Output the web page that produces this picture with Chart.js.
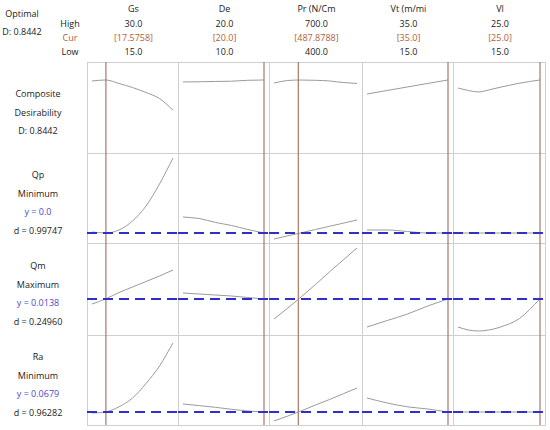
<!DOCTYPE html>
<html lang="en">
<head>
  <meta charset="UTF-8">
  <title>Response Optimizer</title>
  <script src="https://cdn.jsdelivr.net/npm/chart.js"></script>
  <style>
    body { margin: 0; background: #fff; font-family: "Open Sans", sans-serif; font-size: 9px; color: #1a1a1a; }
    #wrap { position: relative; width: 550px; height: 430px; overflow: hidden; }
    .t { position: absolute; white-space: nowrap; transform: translate(-50%, -50%); line-height: 1; }
    .cur { color: #b0603c; }
    .tgt { color: #4a4ac8; }
    .hl, .vl { position: absolute; background: #cfcfcf; }
    canvas { position: absolute; }
  </style>
</head>
<body>
  <div id="wrap"></div>

  <script>
    // factors (columns)
    const factorNames = ['Gs', 'De', 'Pr (N/Cm', 'Vt (m/mi', 'Vl'];
    const highVals = [30.0, 20.0, 700.0, 35.0, 25.0];
    const lowVals = [15.0, 10.0, 400.0, 15.0, 15.0];
    const curVals = [17.5758, 20.0, 487.8788, 35.0, 25.0];
    const curLabels = ['[17.5758]', '[20.0]', '[487.8788]', '[35.0]', '[25.0]'];

    // responses (rows after composite)
    const responseNames = ['Qp', 'Qm', 'Ra'];
    const goals = ['Minimum', 'Maximum', 'Minimum'];
    const targetY = [0.0, 0.0138, 0.0679];
    const targetLabels = ['y = 0.0', 'y = 0.0138', 'y = 0.0679'];
    const dLabels = ['d = 0.99747', 'd = 0.24960', 'd = 0.96282'];
    const compositeD = 'D: 0.8442';

    // x grid for each factor
    const xGs = [15, 17.5, 20, 22.5, 25, 27.5, 30];
    const xDe = [10, 12, 14, 16, 18, 20];
    const xPr = [400, 450, 500, 550, 600, 650, 700];
    const xVt = [15, 20, 25, 30, 35];
    const xVl = [15, 16.25, 17.5, 18.75, 20, 22.5, 25];

    // composite desirability
    const compGs = [0.832, 0.844, 0.801, 0.752, 0.691, 0.618, 0.478];
    const compDe = [0.820, 0.822, 0.826, 0.829, 0.840, 0.844];
    const compPr = [0.807, 0.838, 0.843, 0.840, 0.832, 0.813, 0.801];
    const compVt = [0.673, 0.716, 0.759, 0.802, 0.844];
    const compVl = [0.746, 0.716, 0.698, 0.722, 0.752, 0.805, 0.844];

    // Qp
    const qpGs = [0.001, 0.000, 0.003, 0.012, 0.027, 0.049, 0.075];
    const qpDe = [0.016, 0.0145, 0.0106, 0.0075, 0.0035, 0.000];
    const qpPr = [-0.006, -0.0028, 0.0003, 0.0035, 0.0067, 0.0098, 0.013];
    const qpVt = [0.003, 0.003, 0.0015, 0.0, 0.0];
    const qpVl = [0, 0, 0, 0, 0, 0, 0];

    // Qm
    const qmGs = [0.0128, 0.0138, 0.0151, 0.0162, 0.0173, 0.0184, 0.0196];
    const qmDe = [0.0150, 0.0148, 0.0146, 0.0144, 0.0141, 0.0138];
    const qmPr = [0.0098, 0.0120, 0.0143, 0.0167, 0.0192, 0.0216, 0.0240];
    const qmVt = [0.0082, 0.0095, 0.0108, 0.0124, 0.0138];
    const qmVl = [0.0082, 0.0076, 0.0074, 0.0076, 0.0081, 0.0099, 0.0138];

    // Ra
    const raGs = [0.0669, 0.0679, 0.0731, 0.0819, 0.0964, 0.1139, 0.1369];
    const raDe = [0.0759, 0.0743, 0.0726, 0.0706, 0.0689, 0.0679];
    const raPr = [0.0589, 0.0639, 0.0692, 0.0749, 0.0803, 0.0861, 0.0919];
    const raVt = [0.0819, 0.0769, 0.0731, 0.0709, 0.0679];
    const raVl = [0.0679, 0.0679, 0.0679, 0.0679, 0.0679, 0.0679, 0.0679];

    // y axis extents per row
    const rowMin = [-0.046, -0.010, 0.0066, 0.0549];
    const rowMax = [1.063, 0.080, 0.0250, 0.1449];

    const xGrid = [xGs, xDe, xPr, xVt, xVl];
    const rows = [
      [compGs, compDe, compPr, compVt, compVl],
      [qpGs, qpDe, qpPr, qpVt, qpVl],
      [qmGs, qmDe, qmPr, qmVt, qmVl],
      [raGs, raDe, raPr, raVt, raVl]
    ];

    // layout
    const colEdges = [87, 178, 269, 362, 453, 545];
    const rowEdges = [62, 153, 243, 335, 425];
    const pad = 5;
    const wrap = document.getElementById('wrap');

    function addText(txt, x, y, cls) {
      const d = document.createElement('div');
      d.className = 't' + (cls ? ' ' + cls : '');
      d.textContent = txt;
      d.style.left = x + 'px';
      d.style.top = y + 'px';
      wrap.appendChild(d);
    }

    // header
    addText('Optimal', 22, 13);
    addText(compositeD, 22, 31);
    addText('High', 70, 23);
    addText('Cur', 70, 37, 'cur');
    addText('Low', 70, 51);
    factorNames.forEach((n, c) => {
      const cx = (colEdges[c] + colEdges[c + 1]) / 2 + 1;
      addText(n, cx, 8);
      addText(highVals[c].toFixed(1), cx, 23);
      addText(curLabels[c], cx, 37, 'cur');
      addText(lowVals[c].toFixed(1), cx, 51);
    });

    // row labels
    function rowLabels(lines, r) {
      const mid = (rowEdges[r] + rowEdges[r + 1]) / 2 + 4;
      const start = mid - (lines.length - 1) * 18.5 / 2;
      lines.forEach((l, i) => addText(l[0], 38, start + i * 18.5, l[1]));
    }
    rowLabels([['Composite'], ['Desirability'], [compositeD]], 0);
    responseNames.forEach((n, i) => {
      rowLabels([[n], [goals[i]], [targetLabels[i], 'tgt'], [dLabels[i]]], i + 1);
    });

    // grid lines
    colEdges.forEach(x => {
      const d = document.createElement('div');
      d.className = 'vl';
      d.style.cssText = `left:${x}px;top:${rowEdges[0]}px;width:1px;height:${rowEdges[4] - rowEdges[0] + 1}px`;
      wrap.appendChild(d);
    });
    rowEdges.forEach(y => {
      const d = document.createElement('div');
      d.className = 'hl';
      d.style.cssText = `left:${colEdges[0]}px;top:${y}px;width:${colEdges[5] - colEdges[0] + 1}px;height:1px`;
      wrap.appendChild(d);
    });

    function cellChart(r, c) {
      const left = colEdges[c], top = rowEdges[r];
      const w = colEdges[c + 1] - left, h = rowEdges[r + 1] - top;
      const cv = document.createElement('canvas');
      cv.width = w; cv.height = h;
      cv.style.left = left + 'px';
      cv.style.top = top + 'px';
      wrap.appendChild(cv);

      const unit = (highVals[c] - lowVals[c]) / (w - 2 * pad);
      const xmin = lowVals[c] - pad * unit;
      const xmax = highVals[c] + pad * unit;
      const ymin = rowMin[r], ymax = rowMax[r];

      const datasets = [];
      if (r > 0) {
        const t = targetY[r - 1];
        datasets.push({
          data: [{ x: xmin, y: t }, { x: xmax, y: t }],
          borderColor: '#3030c8', borderWidth: 2, borderDash: [10, 6], pointRadius: 0
        });
      }
      datasets.push({
        data: [{ x: curVals[c], y: ymin }, { x: curVals[c], y: ymax }],
        borderColor: '#a8786a', borderWidth: 1.2, pointRadius: 0
      });
      datasets.push({
        data: xGrid[c].map((x, i) => ({ x: x, y: rows[r][c][i] })),
        borderColor: '#9a9a9a', borderWidth: 1, pointRadius: 0,
        cubicInterpolationMode: 'monotone'
      });

      new Chart(cv.getContext('2d'), {
        type: 'line',
        data: { datasets: datasets },
        options: {
          responsive: false,
          animation: false,
          devicePixelRatio: 1,
          layout: { padding: 0 },
          plugins: { legend: { display: false }, tooltip: { enabled: false } },
          scales: {
            x: { type: 'linear', min: xmin, max: xmax, display: false },
            y: { min: ymin, max: ymax, display: false }
          }
        }
      });
    }

    for (let r = 0; r < 4; r++) {
      for (let c = 0; c < 5; c++) cellChart(r, c);
    }
  </script>
</body>
</html>
